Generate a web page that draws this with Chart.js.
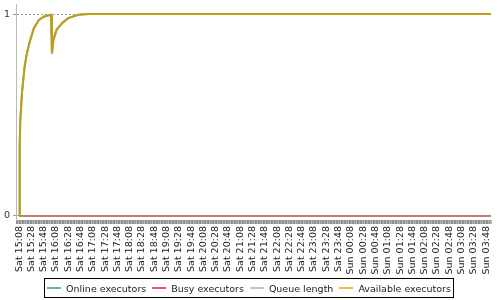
<!DOCTYPE html>
<html>
<head>
<meta charset="utf-8">
<script src="https://cdn.jsdelivr.net/npm/chart.js@4"></script>
<style>
  html, body { margin: 0; padding: 0; background: #fff; }
  #wrap { position: relative; width: 500px; height: 300px; }
  #legend {
    position: absolute; left: 44px; top: 278px; width: 408px; height: 18px;
    border: 1px solid #000; display: flex; align-items: center; justify-content: center;
    font-family: 'DejaVu Sans'; font-size: 9.5px; color: #222; white-space: nowrap;
  }
  #legend .sw { display: inline-block; width: 14px; height: 2px; margin-right: 5px; }
  #legend .txt { margin-right: 6px; }
  #legend .txt:last-child { margin-right: 0; }
</style>
</head>
<body>
<div id="wrap">
  <canvas id="myChart" width="500" height="300"></canvas>
  <div id="legend"></div>
</div>
<script>
// minutes after Sat 15:08 (one sample per minute, flat parts kept sparse)
const minutes = [0, 1, 2, 5, 9, 13, 18, 24, 32, 40, 51, 52, 53.5, 56, 61, 70, 80, 96, 113, 768];
const onlineExecutors = [0, 0.35, 0.475, 0.62, 0.74, 0.81, 0.87, 0.93, 0.97, 0.987, 0.997, 0.997, 0.805, 0.873, 0.922, 0.955, 0.98, 0.997, 1, 1];
const availableExecutors = [0, 0.35, 0.475, 0.62, 0.74, 0.81, 0.87, 0.93, 0.97, 0.987, 0.997, 0.997, 0.805, 0.873, 0.922, 0.955, 0.98, 0.997, 1, 1];
const flatMinutes = [0, 768];
const busyExecutors = [0, 0];
const queueLength = [0, 0];

// one label every 20 minutes
const tickLabels = [
  'Sat 15:08', 'Sat 15:28', 'Sat 15:48', 'Sat 16:08', 'Sat 16:28', 'Sat 16:48',
  'Sat 17:08', 'Sat 17:28', 'Sat 17:48', 'Sat 18:08', 'Sat 18:28', 'Sat 18:48',
  'Sat 19:08', 'Sat 19:28', 'Sat 19:48', 'Sat 20:08', 'Sat 20:28', 'Sat 20:48',
  'Sat 21:08', 'Sat 21:28', 'Sat 21:48', 'Sat 22:08', 'Sat 22:28', 'Sat 22:48',
  'Sat 23:08', 'Sat 23:28', 'Sat 23:48', 'Sun 00:08', 'Sun 00:28', 'Sun 00:48',
  'Sun 01:08', 'Sun 01:28', 'Sun 01:48', 'Sun 02:08', 'Sun 02:28', 'Sun 02:48',
  'Sun 03:08', 'Sun 03:28', 'Sun 03:48'
];

const seriesNames = ['Online executors', 'Busy executors', 'Queue length', 'Available executors'];
const legendColors = ['#6cb88a', '#d9605f', '#c4c4c4', '#ffb43c'];

function toPoints(xs, ys) {
  return xs.map((x, i) => ({x: x, y: ys[i]}));
}

// legend built as plain html under the plot
const legendDiv = document.getElementById('legend');
seriesNames.forEach((name, i) => {
  const sw = document.createElement('span');
  sw.className = 'sw';
  sw.style.background = legendColors[i];
  const txt = document.createElement('span');
  txt.className = 'txt';
  txt.textContent = name;
  legendDiv.appendChild(sw);
  legendDiv.appendChild(txt);
});

const ctx = document.getElementById('myChart');
new Chart(ctx, {
  type: 'line',
  data: {
    datasets: [{
      label: seriesNames[0],
      data: toPoints(minutes, onlineExecutors),
      borderColor: '#5ea678',
      borderWidth: 2
    }, {
      label: seriesNames[1],
      data: toPoints(flatMinutes, busyExecutors),
      borderColor: '#c85a5a',
      borderWidth: 1.5
    }, {
      label: seriesNames[2],
      data: toPoints(flatMinutes, queueLength),
      borderColor: '#c4c4c4',
      borderWidth: 1.5
    }, {
      label: seriesNames[3],
      data: toPoints(minutes, availableExecutors),
      borderColor: 'rgba(215,155,0,0.8)',
      borderWidth: 2,
      order: -1
    }]
  },
  options: {
    animation: false,
    responsive: false,
    elements: {
      point: { radius: 0 },
      line: { tension: 0 }
    },
    layout: { padding: { top: 4, right: 9, bottom: 0, left: 0 } },
    plugins: {
      tooltip: { enabled: false },
      legend: { display: false }
    },
    scales: {
      x: {
        type: 'linear',
        min: -5,
        max: 768,
        afterFit: s => { s.height = 80; s.paddingLeft = 0; s.paddingRight = 0; },
        border: { display: false },
        grid: {
          drawOnChartArea: false,
          drawTicks: true,
          tickLength: 4,
          color: 'rgba(120,120,120,0.55)'
        },
        ticks: {
          stepSize: 1,
          autoSkip: false,
          minRotation: 90,
          maxRotation: 90,
          padding: 2,
          color: '#222',
          font: { family: 'DejaVu Sans', size: 9.5 },
          callback: v => (v >= 0 && v % 20 === 0) ? tickLabels[v / 20] : ''
        }
      },
      y: {
        min: -0.02,
        max: 1.05,
        afterFit: s => { s.width = 16; s.paddingTop = 0; s.paddingBottom = 0; },
        afterBuildTicks: s => { s.ticks = [{value: 0}, {value: 1}]; },
        border: { display: true, color: '#bbbbbb', dash: [2, 2] },
        grid: {
          color: '#999999',
          tickLength: 3,
          tickBorderDash: [],
          tickColor: '#999999'
        },
        ticks: {
          padding: 3,
          color: '#333',
          font: { family: 'DejaVu Sans', size: 9.5 },
          callback: v => String(v)
        }
      }
    }
  }
});
</script>
</body>
</html>
